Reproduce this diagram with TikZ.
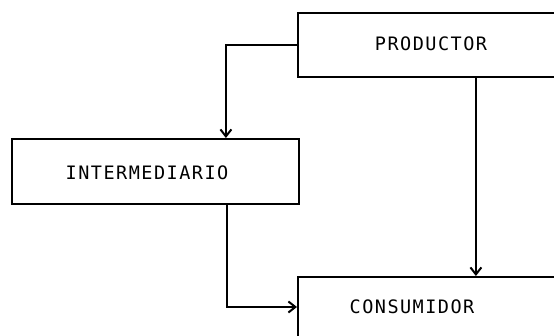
\documentclass[tikz,border=0pt]{standalone}
\usepackage{fontspec}
\newfontfamily\plotfont[LetterSpace=8]{DejaVu Sans Mono}
\usetikzlibrary{arrows.meta}
\begin{document}
\begin{tikzpicture}[x=1pt,y=1pt,
  boxst/.style={draw,line width=1.8pt,rectangle,inner sep=0pt},
  lbl/.style={font=\plotfont\fontsize{18.5}{20}\selectfont,inner sep=0pt},
  arr/.style={line width=1.3pt,-{Straight Barb[length=7pt,width=11pt,line width=2pt]}}]
\useasboundingbox (0,0) rectangle (554,335);
\clip (0,0) rectangle (554,335);
\fill[white] (0,0) rectangle (554,335);
% boxes
\node[boxst,minimum width=266pt,minimum height=64pt,anchor=north west] (prod) at (297,323) {};
\node[boxst,minimum width=287pt,minimum height=65pt,anchor=north west] (inter) at (11,197) {};
\node[boxst,minimum width=290pt,minimum height=90pt,anchor=north west] (cons) at (297,59) {};
% texts
\node[lbl] (prodtxt) at (431,291) {PRODUCTOR};
\node[lbl] (intertxt) at (147,162) {INTERMEDIARIO};
\node[lbl] (constxt) at (412,28) {CONSUMIDOR};
% connectors
\draw[arr] (prod.west) -| ([xshift=70.5pt]inter.north);
\draw[arr] ([xshift=45pt]prod.south) -- ([xshift=45pt]prod.south |- cons.north);
\draw[arr] ([xshift=71.5pt]inter.south) |- (cons.west |- constxt);
\end{tikzpicture}
\end{document}
